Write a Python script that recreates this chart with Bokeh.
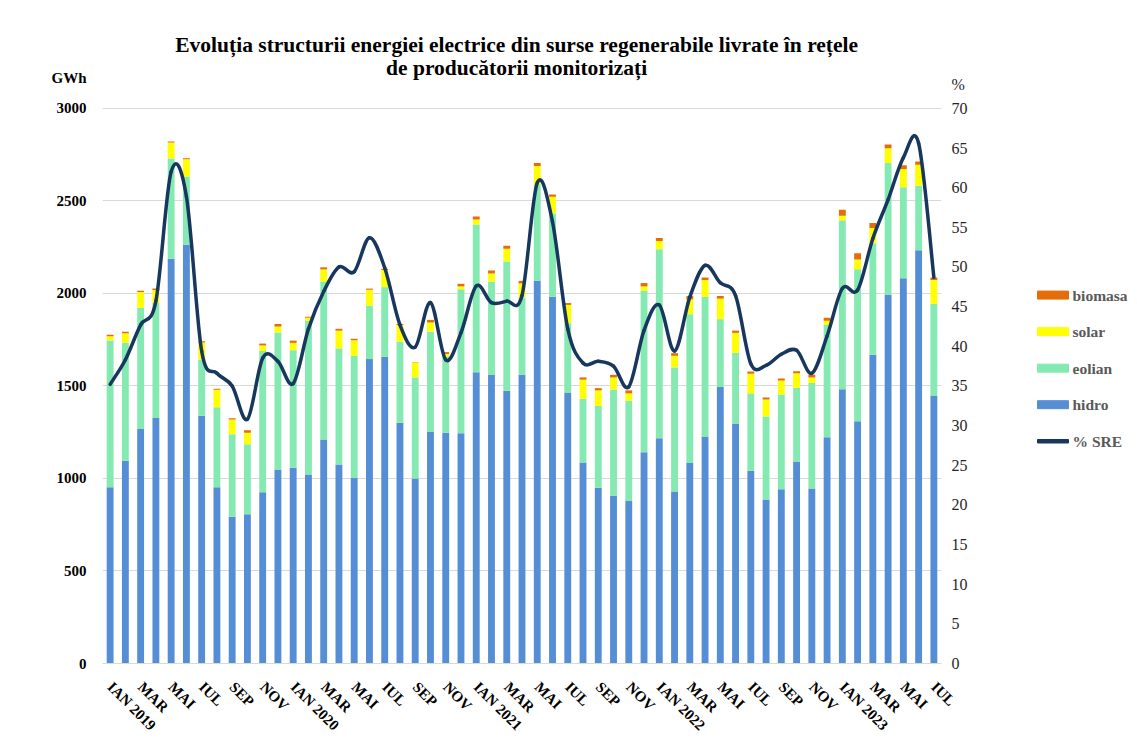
import numpy as np
from bokeh.plotting import figure
from bokeh.layouts import row
from bokeh.models import ColumnDataSource, Range1d, LinearAxis, FixedTicker, Label
from bokeh.core.properties import value
from bokeh.embed import file_html
from bokeh.resources import INLINE

# monthly data, Jan 2019 - Jul 2023 (GWh)
month_names = ["IAN", "FEB", "MAR", "APR", "MAI", "IUN",
               "IUL", "AUG", "SEP", "OCT", "NOV", "DEC"]
years = [2019, 2020, 2021, 2022, 2023]

hidro = [952, 1096, 1267, 1327, 2187, 2263, 1339, 952, 793, 807, 926, 1048,
         1058, 1022, 1211, 1076, 1002, 1645, 1657, 1301, 1000, 1251, 1247, 1245,
         1574, 1560, 1474, 1560, 2068, 1982, 1464, 1086, 950, 906, 878, 1141,
         1218, 930, 1084, 1227, 1494, 1297, 1042, 886, 942, 1092, 946, 1223,
         1482, 1309, 1669, 1994, 2082, 2233, 1448]
eolian = [793, 637, 655, 621, 542, 368, 304, 433, 446, 378, 763, 741,
          635, 831, 853, 627, 661, 289, 377, 438, 546, 542, 412, 777,
          799, 504, 699, 418, 522, 450, 375, 344, 442, 574, 542, 873,
          1021, 670, 804, 755, 367, 382, 418, 449, 512, 398, 570, 606,
          914, 822, 602, 711, 492, 349, 496]
solar = [24, 52, 86, 70, 86, 94, 92, 94, 80, 62, 30, 32,
         40, 16, 66, 96, 84, 86, 93, 90, 80, 50, 14, 16,
         27, 44, 68, 76, 99, 90, 99, 104, 84, 66, 40, 24,
         44, 63, 80, 90, 111, 108, 106, 92, 76, 78, 30, 24,
         24, 52, 82, 80, 99, 113, 128]
biomasa = [8, 8, 6, 8, 6, 6, 6, 6, 6, 14, 10, 14,
           12, 5, 11, 10, 8, 6, 6, 6, 2, 14, 10, 14,
           16, 16, 16, 14, 16, 12, 10, 12, 12, 14, 16, 18,
           16, 14, 18, 14, 14, 12, 12, 11, 10, 12, 14, 16,
           32, 34, 27, 20, 20, 18, 14]
pct_sre = [35.2, 38.3, 42.7, 45.7, 62.0, 58.9, 39.4, 36.6, 35.0, 30.8, 38.5, 38.1,
           35.3, 42.2, 46.9, 50.0, 49.4, 53.7, 49.9, 42.7, 39.9, 45.5, 38.3, 41.7,
           47.6, 45.5, 45.7, 46.4, 60.6, 55.7, 42.2, 37.9, 38.1, 37.5, 34.9, 42.0,
           45.2, 39.4, 46.2, 50.2, 48.0, 46.4, 37.8, 37.6, 39.0, 39.5, 36.6, 41.3,
           47.3, 47.1, 53.6, 58.5, 63.8, 65.6, 48.7]

gwh_ticks = [0, 500, 1000, 1500, 2000, 2500, 3000]
pct_ticks = list(range(0, 71, 5))

legend_names = ["biomasa", "solar", "eolian", "hidro", "% SRE"]

n = len(hidro)
x = list(range(n))

# tick labels: every second month, year on January
tick_pos = list(range(0, n, 2))
tick_labels = {}
for i in tick_pos:
    m = month_names[i % 12]
    if i % 12 == 0:
        m = f"{m} {years[i // 12]}"
    tick_labels[i] = m

src = ColumnDataSource(dict(x=x, hidro=hidro, eolian=eolian, solar=solar, biomasa=biomasa))

C_HIDRO = "#558ED5"
C_EOLIAN = "#84EAB2"
C_SOLAR = "#FFFF00"
C_BIO = "#E46C0A"
C_LINE = "#17375E"

SERIF = "Liberation Serif"
H = 742
TOP, BOTTOM = 20, 78   # frame from y=20 to y=664

# the frame reaches up to the title, the axes only tick up to 3000 / 70
Y_TOP = 3475
PCT_TOP = Y_TOP * 70 / 3000

p = figure(width=1000, height=H, output_backend="svg", toolbar_location=None,
           x_range=Range1d(-0.5, 54.5), y_range=Range1d(0, Y_TOP),
           min_border_left=102, min_border_right=59, min_border_top=TOP,
           min_border_bottom=BOTTOM)
p.outline_line_color = None
p.xgrid.visible = False
p.ygrid.grid_line_color = "#d9d9d9"
p.ygrid.ticker = FixedTicker(ticks=gwh_ticks)

p.vbar_stack(["hidro", "eolian", "solar", "biomasa"], x="x", width=0.45,
             color=[C_HIDRO, C_EOLIAN, C_SOLAR, C_BIO], line_color=None, source=src)

# secondary axis for % SRE
p.extra_y_ranges = {"pct": Range1d(0, PCT_TOP)}

# smoothed line, Excel style (bezier through the points)
px = np.array(x, dtype=float)
py = np.array(pct_sre, dtype=float)
xp = np.concatenate([[px[0]], px, [px[-1]]])
yp = np.concatenate([[py[0]], py, [py[-1]]])
cx0 = px[:-1] + (xp[2:-1] - xp[:-3]) / 6
cy0 = py[:-1] + (yp[2:-1] - yp[:-3]) / 6
cx1 = px[1:] - (xp[3:] - xp[1:-2]) / 6
cy1 = py[1:] - (yp[3:] - yp[1:-2]) / 6
p.bezier(x0=px[:-1], y0=py[:-1], x1=px[1:], y1=py[1:],
         cx0=cx0, cy0=cy0, cx1=cx1, cy1=cy1,
         line_color=C_LINE, line_width=3.5, line_cap="round", y_range_name="pct")

# axes
ax = p.xaxis[0]
ax.ticker = FixedTicker(ticks=tick_pos)
ax.major_label_overrides = tick_labels
ax.major_label_orientation = -np.pi / 4
ax.major_label_text_font = SERIF
ax.major_label_text_font_style = "bold"
ax.major_label_text_font_size = "15px"
ax.major_label_text_color = "#000000"
ax.major_label_standoff = 15
ax.major_tick_line_color = None
ax.minor_tick_line_color = None
ax.axis_line_color = "#d9d9d9"

# unit names sit as extra tick labels just above the top ticks
ay = p.yaxis[0]
ay.ticker = FixedTicker(ticks=gwh_ticks + [3162])
ay.major_label_overrides = {3162: "GWh"}
ay.major_label_text_font = SERIF
ay.major_label_text_font_style = "bold"
ay.major_label_text_font_size = "15px"
ay.major_label_text_color = "#000000"
ay.major_label_standoff = 10
ay.major_tick_line_color = None
ay.minor_tick_line_color = None
ay.axis_line_color = None

ar = LinearAxis(y_range_name="pct", ticker=FixedTicker(ticks=pct_ticks + [73]))
ar.major_label_overrides = {73: "%"}
ar.major_label_text_font = SERIF
ar.major_label_text_font_size = "16px"
ar.major_label_text_color = "#262626"
ar.major_label_standoff = 4
ar.major_tick_line_color = None
ar.minor_tick_line_color = None
ar.axis_line_color = None
p.add_layout(ar, "right")

# title
for txt, yy in [("Evoluția structurii energiei electrice din surse regenerabile livrate în rețele", 3340),
                ("de producătorii monitorizați", 3216)]:
    p.add_layout(Label(x=26.65, y=yy, text=txt, text_font=SERIF, text_font_style="bold",
                       text_font_size="21.5px", text_align="center", text_baseline="middle",
                       text_color="#000000"))

# legend column to the right; its frame is aligned with the main one,
# so its ranges are in page pixels (y down)
LW = 129
lg = figure(width=LW, height=H, output_backend="svg", toolbar_location=None,
            x_range=Range1d(1000, 1000 + LW), y_range=Range1d(H - BOTTOM, TOP),
            x_axis_type=None, y_axis_type=None,
            min_border_left=0, min_border_right=0, min_border_top=TOP,
            min_border_bottom=BOTTOM)
lg.outline_line_color = None
lg.grid.visible = False
item_y = [295 + 36.6 * i for i in range(len(legend_names))]
lg.rect(x=1052.5, y=item_y, width=31, height=[8, 8, 8, 8, 3.5],
        color=[C_BIO, C_SOLAR, C_EOLIAN, C_HIDRO, C_LINE])
lg.text(x=1072, y=item_y, text=legend_names, text_baseline="middle", text_align="left",
        text_font=value(SERIF), text_font_style="bold", text_font_size="15.5px",
        text_color="#595959")

layout = row(p, lg)
open("out.html", "w").write(file_html(layout, INLINE))
